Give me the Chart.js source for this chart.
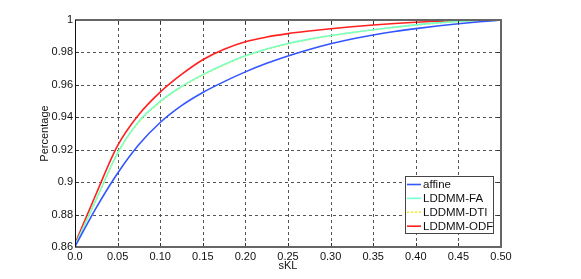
<!DOCTYPE html>
<html><head><meta charset="utf-8">
<script src="https://cdn.jsdelivr.net/npm/chart.js@4/dist/chart.umd.min.js"></script>
<style>html,body{margin:0;padding:0;background:#fff}#w{width:581px;height:279px}</style>
</head><body><div id="w"><canvas id="c" width="581" height="279"></canvas></div>
<script>
const sKL = [0, 0.025, 0.05, 0.075, 0.10, 0.125, 0.15, 0.175, 0.20, 0.225, 0.25, 0.275, 0.30, 0.325, 0.35, 0.375, 0.40, 0.425, 0.45, 0.475, 0.50];
const affine   = [0.8603, 0.8843, 0.9055, 0.9232, 0.9368, 0.9472, 0.9553, 0.9620, 0.9680, 0.9733, 0.9778, 0.9818, 0.9853, 0.9883, 0.9908, 0.9929, 0.9947, 0.9963, 0.9977, 0.9989, 1.0];
const lddmmFA  = [0.8610, 0.8895, 0.9180, 0.9375, 0.9498, 0.9590, 0.9663, 0.9726, 0.9779, 0.9821, 0.9855, 0.9882, 0.9904, 0.9923, 0.9940, 0.9956, 0.9970, 0.9982, 0.9991, 0.9997, 1.0];
const lddmmDTI = [0.8606, 0.8891, 0.9176, 0.9371, 0.9494, 0.9587, 0.9660, 0.9723, 0.9777, 0.9819, 0.9853, 0.9880, 0.9903, 0.9922, 0.9939, 0.9955, 0.9969, 0.9981, 0.9991, 0.9997, 1.0];
const lddmmODF = [0.8620, 0.8930, 0.9225, 0.9417, 0.9555, 0.9664, 0.9755, 0.9820, 0.9866, 0.9895, 0.9916, 0.9932, 0.9946, 0.9958, 0.9969, 0.9978, 0.9986, 0.9992, 0.9997, 0.9999, 1.0];
const seriesNames = ['affine', 'LDDMM-FA', 'LDDMM-DTI', 'LDDMM-ODF'];
const xTickLabels = ['0.0','0.05','0.10','0.15','0.20','0.25','0.30','0.35','0.40','0.45','0.50'];
const yTickLabels = ['0.86','0.88','0.9','0.92','0.94','0.96','0.98','1'];
const xTickValues = [0,0.05,0.1,0.15,0.2,0.25,0.3,0.35,0.4,0.45,0.5];
const yTickValues = [0.86,0.88,0.9,0.92,0.94,0.96,0.98,1.0];

const pts = arr => arr.map((v,i)=>({x:sKL[i], y:v}));
const styles = [
  {color:'#3355ff', dash:[]},
  {color:'#77ffcc', dash:[]},
  {color:'#f0f000', dash:[2,2]},
  {color:'#ff2020', dash:[]}
];
const all = [affine, lddmmFA, lddmmDTI, lddmmODF];
const datasets = all.map((a,i)=>({
  label: seriesNames[i], data: pts(a), borderColor: styles[i].color, borderDash: styles[i].dash,
  borderWidth: 1.6, pointRadius: 0, fill:false, cubicInterpolationMode:'monotone'
}));

const font = {family:'"Liberation Sans", Arial, sans-serif', size:11};

const gridPlugin = {
  id:'dgrid',
  beforeDatasetsDraw(chart){
    const {ctx, chartArea:a, scales:{x,y}} = chart;
    ctx.save();
    ctx.strokeStyle='#555'; ctx.lineWidth=1; ctx.setLineDash([3,3]);
    xTickValues.slice(1,-1).forEach(v=>{
      const px = Math.round(x.getPixelForValue(v))+0.5;
      ctx.beginPath(); ctx.moveTo(px,a.bottom); ctx.lineTo(px,a.top); ctx.stroke();
    });
    yTickValues.slice(1,-1).forEach(v=>{
      const py = Math.round(y.getPixelForValue(v))+0.5;
      ctx.beginPath(); ctx.moveTo(a.left,py); ctx.lineTo(a.right,py); ctx.stroke();
    });
    ctx.restore();
  }
};

const framePlugin = {
  id:'frame',
  afterDraw(chart){
    const {ctx, chartArea:a, scales:{x,y}} = chart;
    ctx.save();
    ctx.strokeStyle='#333'; ctx.lineWidth=1; ctx.setLineDash([]);
    xTickValues.forEach(v=>{
      const px = Math.round(x.getPixelForValue(v))+0.5;
      ctx.beginPath(); ctx.moveTo(px,a.bottom); ctx.lineTo(px,a.bottom-4);
      ctx.moveTo(px,a.top); ctx.lineTo(px,a.top+4); ctx.stroke();
    });
    yTickValues.forEach(v=>{
      const py = Math.round(y.getPixelForValue(v))+0.5;
      ctx.beginPath(); ctx.moveTo(a.left,py); ctx.lineTo(a.left+4,py);
      ctx.moveTo(a.right,py); ctx.lineTo(a.right-4,py); ctx.stroke();
    });
    ctx.strokeStyle='#666'; ctx.lineWidth=2;
    ctx.beginPath();
    ctx.moveTo(a.left,a.top); ctx.lineTo(a.right,a.top); ctx.lineTo(a.right,a.bottom); ctx.lineTo(a.left,a.bottom);
    ctx.stroke();
    ctx.strokeStyle='#111'; ctx.lineWidth=1;
    ctx.beginPath(); ctx.moveTo(a.left+0.5,a.top); ctx.lineTo(a.left+0.5,a.bottom); ctx.stroke();
    // legend
    const lx=405, ly=176, lw=88, lh=57;
    ctx.fillStyle='#fff'; ctx.fillRect(lx,ly,lw,lh);
    ctx.strokeStyle='#444'; ctx.lineWidth=1; ctx.strokeRect(lx+0.5,ly+0.5,lw,lh);
    ctx.font='11.5px "Liberation Sans", Arial, sans-serif'; ctx.textBaseline='middle'; ctx.fillStyle='#111';
    chart.data.datasets.forEach((d,i)=>{
      const cy = ly + 8.5 + i*13.9;
      ctx.strokeStyle=d.borderColor; ctx.lineWidth=1.6; ctx.setLineDash(d.borderDash);
      ctx.beginPath(); ctx.moveTo(407,cy); ctx.lineTo(421,cy); ctx.stroke();
      ctx.setLineDash([]);
      ctx.fillText(d.label, 423, cy+0.5);
    });
    ctx.restore();
  }
};

new Chart(document.getElementById('c'), {
  type:'line',
  data:{datasets},
  options:{
    responsive:false, animation:false, devicePixelRatio:1,
    layout:{padding:{left:38, top:20, right:80, bottom:0}},
    plugins:{legend:{display:false}, tooltip:{enabled:false}},
    scales:{
      x:{type:'linear', min:0, max:0.5,
        afterBuildTicks(s){ s.ticks = xTickValues.map(v=>({value:v})); },
        afterFit(s){ s.height = 32; },
        ticks:{font, color:'#111', padding:3, maxRotation:0, autoSkip:false,
          callback:(v,i)=>xTickLabels[i]},
        grid:{display:false, drawTicks:false},
        border:{display:false},
        title:{display:true, text:'sKL', font, color:'#111', padding:{top:0,bottom:6}}
      },
      y:{type:'linear', min:0.86, max:1.0,
        afterBuildTicks(s){ s.ticks = yTickValues.map(v=>({value:v})); },
        afterFit(s){ s.width = 37; },
        ticks:{font, color:'#111', padding:2, autoSkip:false,
          callback:(v,i)=>yTickLabels[i]},
        grid:{display:false, drawTicks:false},
        border:{display:false},
        title:{display:true, text:'Percentage', font, color:'#111', padding:{top:0,bottom:0}}
      }
    }
  },
  plugins:[gridPlugin, framePlugin]
});
</script></body></html>
